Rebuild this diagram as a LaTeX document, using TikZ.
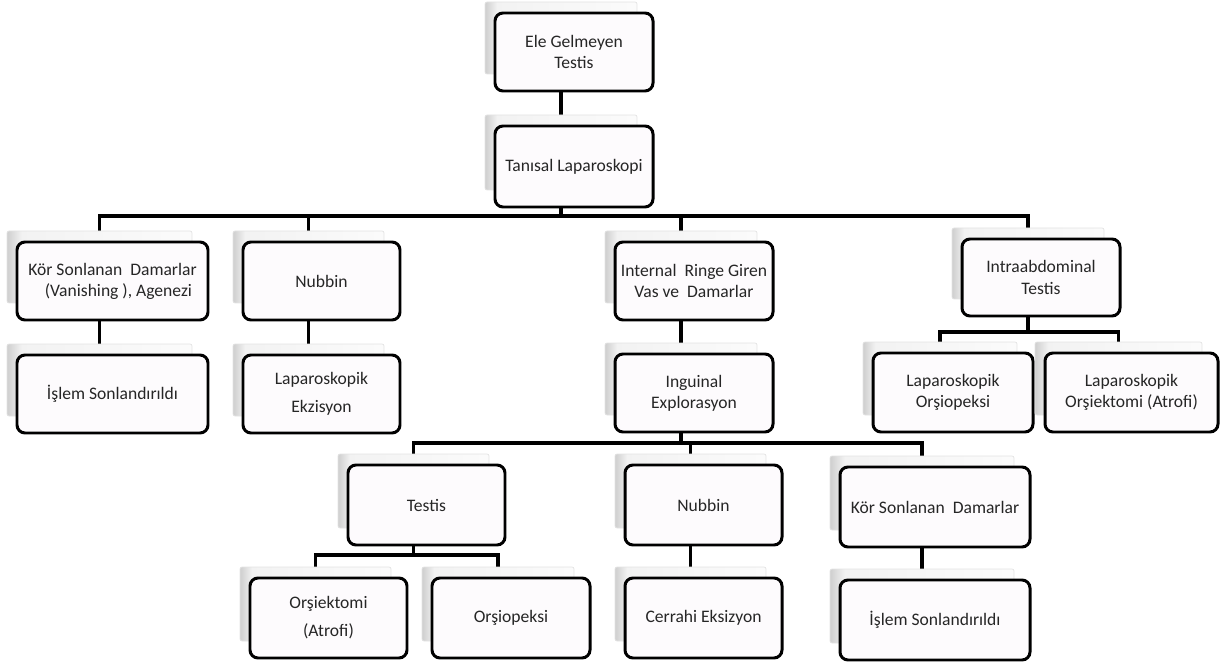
\documentclass[tikz,border=0pt]{standalone}
\usepackage{fontspec}
\setmainfont{Carlito}
\usepackage{tikz}
\usetikzlibrary{backgrounds}
\definecolor{kutuic}{RGB}{253,251,253}
\pgfdeclarehorizontalshading{golgeshade}{100bp}{color(0bp)=(gray!38); color(25bp)=(gray!38); color(29bp)=(gray!10); color(75bp)=(gray!3); color(100bp)=(gray!3)}
\tikzset{
  kutu/.style={draw=black, line width=1.7pt, rounded corners=0.16cm, fill=kutuic,
    align=center, inner sep=0pt, text=black!85, font=\fontsize{10}{12}\selectfont},
  golge/.style={draw=gray!22, line width=0.4pt, shading=golgeshade, rounded corners=0.04cm, inner sep=0pt},
  baglanti/.style={line width=1.9pt}
}

\begin{document}
\begin{tikzpicture}[x=0.02cm, y=-0.02cm]
        \useasboundingbox (0,0) rectangle (1224,662);
        % kutular: ad / merkez x / merkez y / genislik / yukseklik / yazi
        \foreach \ad/\x/\y/\w/\h/\yazi in {
            ust/574/52/158/78/{Ele Gelmeyen\\Testis},
            tani/574/166.5/158/81/{Tanısal Laparoskopi},
            kor1/112.5/281/191/78/{Kör Sonlanan\ \ Damarlar\\\ \ \ (Vanishing ), Agenezi},
            nub1/321.5/281/157/78/{Nubbin},
            intr/694/281/158/78/{Internal\ \ Ringe Giren\\Vas ve\ \ Damarlar},
            intra/1041/277.5/158/77/{Intraabdominal\\Testis},
            islem1/112.5/394/191/78/{İşlem Sonlandırıldı},
            lapek/321.5/394/157/78/{Laparoskopik\\[4pt]Ekzisyon},
            ing/694/393/158/78/{Inguinal\\Explorasyon},
            lapor/953/392.5/160/79/{Laparoskopik\\Orşiopeksi},
            lapork/1131.5/392.5/173/79/{Laparoskopik\\Orşiektomi (Atrofi)},
            testis/426.5/505/157/80/{Testis},
            nub2/703.5/505/157/80/{Nubbin},
            kor2/935/507/190/80/{Kör Sonlanan\ \ Damarlar},
            orsiek/328.5/618/157/80/{Orşiektomi\\[4pt](Atrofi)},
            orsiop/511/618/158/80/{Orşiopeksi},
            cerr/703.5/618/157/80/{Cerrahi Eksizyon},
            islem2/935/620/190/80/{İşlem Sonlandırıldı}}{
            \node[golge, minimum width=(\w-6)*0.02cm, minimum height=(\h-6)*0.02cm] (g\ad) at (\x-13,\y-14) {};
            \node[kutu, minimum width=\w*0.02cm, minimum height=\h*0.02cm] (\ad) at (\x,\y) {\yazi};
        }
        \coordinate (b1) at (0,216);
        \coordinate (b2) at (0,332);
        \coordinate (b3) at (0,443);
        \coordinate (b4) at (0,555);
        \begin{scope}[on background layer]
        \draw[baglanti] (gust.south) -- (gtani.north);
        \foreach \c in {kor1,nub1,intr,intra}
            \draw[baglanti] (gtani.south) |- (b1 -| g\c.north) -- (g\c.north);
        \draw[baglanti] (gkor1.south) -- (gislem1.north);
        \draw[baglanti] (gnub1.south) -- (glapek.north);
        \draw[baglanti] (gintr.south) -- (ging.north);
        \foreach \c in {lapor,lapork}
            \draw[baglanti] (gintra.south) |- (b2 -| g\c.north) -- (g\c.north);
        \foreach \c in {testis,nub2,kor2}
            \draw[baglanti] (ging.south) |- (b3 -| g\c.north) -- (g\c.north);
        \foreach \c in {orsiek,orsiop}
            \draw[baglanti] (gtestis.south) |- (b4 -| g\c.north) -- (g\c.north);
        \draw[baglanti] (gnub2.south) -- (gcerr.north);
        \draw[baglanti] (gkor2.south) -- (gislem2.north);
        %\draw[baglanti] (ging.south) -- (gnub2.north);
        \end{scope}
    \end{tikzpicture}
\end{document}
